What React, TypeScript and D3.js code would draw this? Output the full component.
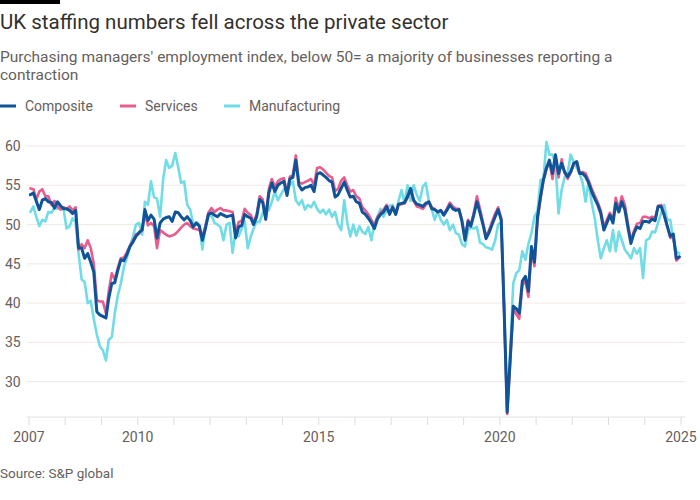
import React from "react";
import * as d3 from "d3";

const startYear = 2007;
const yTicks = [30, 35, 40, 45, 50, 55, 60];
const xLabelYears = [2007, 2010, 2015, 2020, 2025];
const seriesNames = ["Composite", "Services", "Manufacturing"];

// Monthly values, Jan 2007 - Dec 2024 (12 per row)
const composite = [
  53.8, 54.0, 53.0, 51.9, 53.1, 53.3, 52.9, 52.8, 52.1, 52.9, 52.4, 52.0,
  52.0, 51.8, 51.4, 51.8, 47.0, 47.0, 45.7, 46.3, 45.2, 44.0, 38.9, 38.5,
  38.3, 38.1, 40.6, 42.5, 42.6, 44.2, 45.5, 45.4, 46.2, 47.2, 47.8, 48.5,
  49.0, 49.3, 51.9, 50.5, 51.2, 50.7, 48.3, 50.2, 50.7, 50.9, 51.0, 50.4,
  51.6, 51.5, 51.0, 50.6, 51.0, 50.5, 49.7, 50.2, 49.8, 48.0, 49.5, 51.3,
  51.5, 51.2, 51.0, 51.4, 51.2, 51.0, 51.1, 51.2, 48.3, 49.7, 49.9, 51.3,
  51.0, 50.8, 50.0, 51.0, 53.2, 52.8, 50.7, 54.0, 55.3, 54.2, 55.0, 55.3,
  55.5, 53.7, 55.8, 56.0, 58.2, 55.0, 54.4, 54.7, 54.8, 55.0, 54.2, 56.4,
  56.6, 56.3, 56.0, 55.6, 55.4, 53.5, 53.8, 54.6, 55.4, 54.4, 53.5, 53.6,
  52.9, 52.7, 51.6, 51.3, 50.8, 50.2, 49.5, 50.7, 51.3, 51.6, 52.3, 51.3,
  52.2, 51.3, 52.6, 52.7, 52.8, 53.6, 54.6, 53.1, 52.6, 52.5, 52.3, 52.7,
  52.9, 52.0, 51.9, 51.6, 51.8, 51.2, 51.8, 52.5, 52.0, 51.8, 51.9, 50.4,
  48.0, 50.4, 49.8, 51.3, 52.9, 51.5, 50.0, 48.2, 49.0, 50.0, 51.0, 51.9,
  50.6, 38.5, 26.1, 33.0, 39.6, 39.3, 38.7, 42.8, 43.4, 41.5, 47.2, 45.2,
  51.0, 53.6, 55.7, 57.2, 58.2, 56.5, 58.9, 56.5, 57.8, 56.7, 56.1, 56.7,
  57.8, 58.0, 56.5, 56.5, 56.1, 55.3, 54.2, 53.3, 52.5, 51.4, 49.3, 50.2,
  51.2, 50.2, 52.7, 51.6, 52.9, 51.9, 49.7, 47.6, 48.9, 49.7, 49.5, 50.4,
  50.4, 50.3, 50.7, 50.5, 52.3, 52.3, 51.2, 49.8, 48.5, 48.8, 45.7, 45.9,
];

const services = [
  54.6, 54.5, 53.2, 54.2, 54.5, 53.6, 53.6, 52.5, 53.0, 52.3, 51.9, 52.2,
  52.0, 52.3, 51.8, 52.2, 46.8, 47.5, 47.0, 48.0, 47.0, 45.0, 40.4, 40.2,
  40.2, 38.7, 41.5, 43.8, 43.0, 44.5, 45.7, 45.8, 46.5, 47.3, 48.0, 48.8,
  48.8, 49.5, 51.3, 49.9, 50.2, 49.8, 47.0, 49.3, 49.0, 48.7, 48.5, 48.6,
  48.8, 49.2, 49.6, 50.0, 50.2, 49.8, 49.5, 49.4, 49.3, 48.5, 49.8, 51.5,
  52.1, 51.6, 51.9, 52.1, 51.8, 51.8, 51.7, 51.6, 48.9, 50.3, 50.5, 52.0,
  51.5, 51.2, 50.3, 51.3, 53.6, 53.2, 50.6, 54.5, 55.8, 54.8, 55.5, 55.8,
  55.9, 54.0, 56.1, 56.3, 58.8, 55.4, 55.2, 55.4, 55.6, 55.8, 55.0, 57.2,
  57.3, 57.0, 56.6, 56.2, 56.0, 54.3, 54.5, 55.6, 56.0, 55.0, 54.2, 54.4,
  53.6, 53.3, 52.2, 51.8, 51.3, 50.6, 49.8, 51.0, 51.5, 51.9, 52.5, 51.5,
  52.3, 51.3, 52.5, 52.6, 52.7, 53.4, 54.5, 53.0, 52.3, 52.2, 52.0, 52.5,
  52.9, 52.2, 52.0, 51.6, 51.8, 51.3, 52.0, 52.8, 52.3, 52.0, 52.0, 50.6,
  48.3, 50.6, 50.0, 51.6, 53.6, 52.0, 50.3, 48.5, 49.3, 50.4, 51.4, 52.2,
  50.8, 38.3, 25.9, 32.5, 39.3, 38.6, 38.0, 42.3, 42.8, 40.8, 46.8, 44.7,
  50.5, 53.3, 55.5, 57.0, 58.0, 55.8, 58.6, 56.0, 58.3, 56.6, 55.8, 56.6,
  57.6, 58.0, 56.6, 56.7, 56.5, 55.6, 54.6, 53.7, 52.8, 51.8, 49.7, 50.6,
  51.5, 50.5, 53.4, 52.0, 53.6, 52.5, 50.2, 48.0, 49.2, 50.1, 50.2, 51.0,
  51.0, 50.8, 51.0, 50.8, 52.4, 52.5, 51.4, 49.9, 48.3, 48.6, 45.4, 45.8,
];

const manufacturing = [
  51.6, 52.3, 51.0, 49.8, 50.6, 50.4, 51.6, 51.5, 52.1, 52.0, 52.3, 52.0,
  49.5, 49.8, 50.8, 50.3, 46.3, 43.0, 42.7, 40.0, 40.3, 38.0, 36.0, 34.5,
  34.0, 32.7, 35.3, 35.7, 38.7, 41.0, 42.5, 44.6, 45.8, 47.2, 48.5, 50.0,
  50.2, 48.7, 52.9, 52.5, 55.5, 53.5, 53.3, 51.0, 55.8, 58.2, 57.2, 57.5,
  59.1, 57.2, 55.3, 55.5, 52.5, 51.9, 50.0, 50.3, 50.0, 46.8, 49.8, 51.0,
  51.2, 50.2, 50.0, 49.7, 48.0, 50.0, 50.2, 46.4, 49.3, 48.5, 49.5, 50.4,
  47.0, 48.5, 49.5, 50.4, 50.3, 51.5, 52.3, 51.8, 52.9, 54.2, 53.1, 53.8,
  54.5, 54.2, 55.0, 55.5, 53.1, 52.5, 53.1, 51.9, 52.5, 52.2, 52.9, 52.0,
  51.5, 51.9, 51.3, 51.9, 51.0, 51.6, 50.0, 49.3, 53.1, 50.3, 48.5, 50.0,
  48.6, 49.8, 49.1, 48.8, 49.7, 48.0, 50.2, 51.0, 52.0, 51.0, 51.8, 52.4,
  52.5, 51.3, 53.0, 54.4, 52.7, 55.0, 53.0, 55.0, 53.8, 53.0, 54.8, 55.3,
  53.0, 51.9, 50.6, 51.7, 50.6, 50.0, 50.6, 49.3, 50.0, 48.9, 48.7, 47.5,
  47.2, 49.3, 49.6, 49.5, 49.7, 47.7, 47.5, 47.1, 47.0, 46.8, 48.0, 50.0,
  50.3, 38.8, 26.4, 33.8, 42.5, 43.8, 44.2, 46.6, 45.5, 47.5, 48.9, 51.0,
  51.7, 55.7, 55.7, 60.5, 58.9, 58.9, 57.8, 51.4, 54.4, 56.0, 56.6, 58.9,
  58.0, 57.2, 56.5, 55.3, 52.9, 55.5, 52.8, 50.8, 48.0, 45.7, 47.0, 48.0,
  46.6, 49.3, 46.6, 49.1, 48.0, 46.8, 46.3, 45.7, 47.0, 46.3, 47.0, 43.2,
  48.0, 48.2, 49.1, 49.0, 50.2, 51.5, 52.5, 50.6, 50.6, 48.0, 46.6, 46.3,
];

const colors = ["#0f5499", "#e95d8c", "#70dce6"];
const widths = [3, 2.6, 2.6];

const W = 700;
const H = 500;
const FONT = "Roboto, 'Noto Sans', sans-serif";
const GREY = "#66605c";

export default function App() {
  const x = d3
    .scaleTime()
    .domain([new Date(2007, 0, 1), new Date(2025, 0, 1)])
    .range([29, 681]);
  const y = d3.scaleLinear().domain([25.5, 60]).range([417, 146]);

  const toPoints = (vals: number[]) =>
    vals.map((v, i) => ({
      date: new Date(startYear + Math.floor(i / 12), i % 12, 15),
      v,
    }));

  const line = d3
    .line<{ date: Date; v: number }>()
    .x((d) => x(d.date))
    .y((d) => y(d.v))
    .curve(d3.curveLinear);

  const allSeries = [composite, services, manufacturing];
  const drawOrder = [2, 1, 0];
  const yearTicks = d3.range(2007, 2026).map((yr) => new Date(yr, 0, 1));

  const legendX = [0, 120, 224];

  return (
    <svg
      width={W}
      height={H}
      style={{ position: "absolute", left: 0, top: 0, background: "#fff" }}
      fontFamily={FONT}
    >
      <rect x={0} y={0} width={60} height={4} fill="#000" />
      <text x={0} y={29} fontSize={20.5} fill="#33302e">
        UK staffing numbers fell across the private sector
      </text>
      <text x={0} y={62} fontSize={15.5} fill={GREY}>
        Purchasing managers' employment index, below 50= a majority of businesses reporting a
      </text>
      <text x={0} y={80} fontSize={15.5} fill={GREY}>
        contraction
      </text>

      {seriesNames.map((n, i) => (
        <g key={n}>
          <line
            x1={legendX[i]}
            x2={legendX[i] + 16}
            y1={106}
            y2={106}
            stroke={colors[i]}
            strokeWidth={3}
          />
          <text x={legendX[i] + 25} y={111} fontSize={14} fill={GREY}>
            {n}
          </text>
        </g>
      ))}

      {yTicks.map((t) => (
        <g key={t}>
          <line x1={27} x2={685} y1={y(t)} y2={y(t)} stroke="#f0e9e6" strokeWidth={1} />
          <text x={5} y={y(t) + 5} fontSize={14} fill={GREY}>
            {t}
          </text>
        </g>
      ))}

      <line x1={27} x2={685} y1={417} y2={417} stroke="#e6e2df" strokeWidth={1} />
      {yearTicks.map((d, i) => (
        <line
          key={i}
          x1={x(d)}
          x2={x(d)}
          y1={417}
          y2={425}
          stroke="#e0dcd9"
          strokeWidth={1}
        />
      ))}
      {xLabelYears.map((yr) => (
        <text
          key={yr}
          x={x(new Date(yr, 0, 1))}
          y={442}
          fontSize={14}
          fill={GREY}
          textAnchor="middle"
        >
          {yr}
        </text>
      ))}

      {drawOrder.map((i) => (
        <path
          key={i}
          d={line(toPoints(allSeries[i])) || ""}
          fill="none"
          stroke={colors[i]}
          strokeWidth={widths[i]}
          strokeLinejoin="round"
          strokeLinecap="round"
        />
      ))}

      <text x={0} y={478} fontSize={13.5} fill={GREY}>
        Source: S&amp;P global
      </text>
    </svg>
  );
}
